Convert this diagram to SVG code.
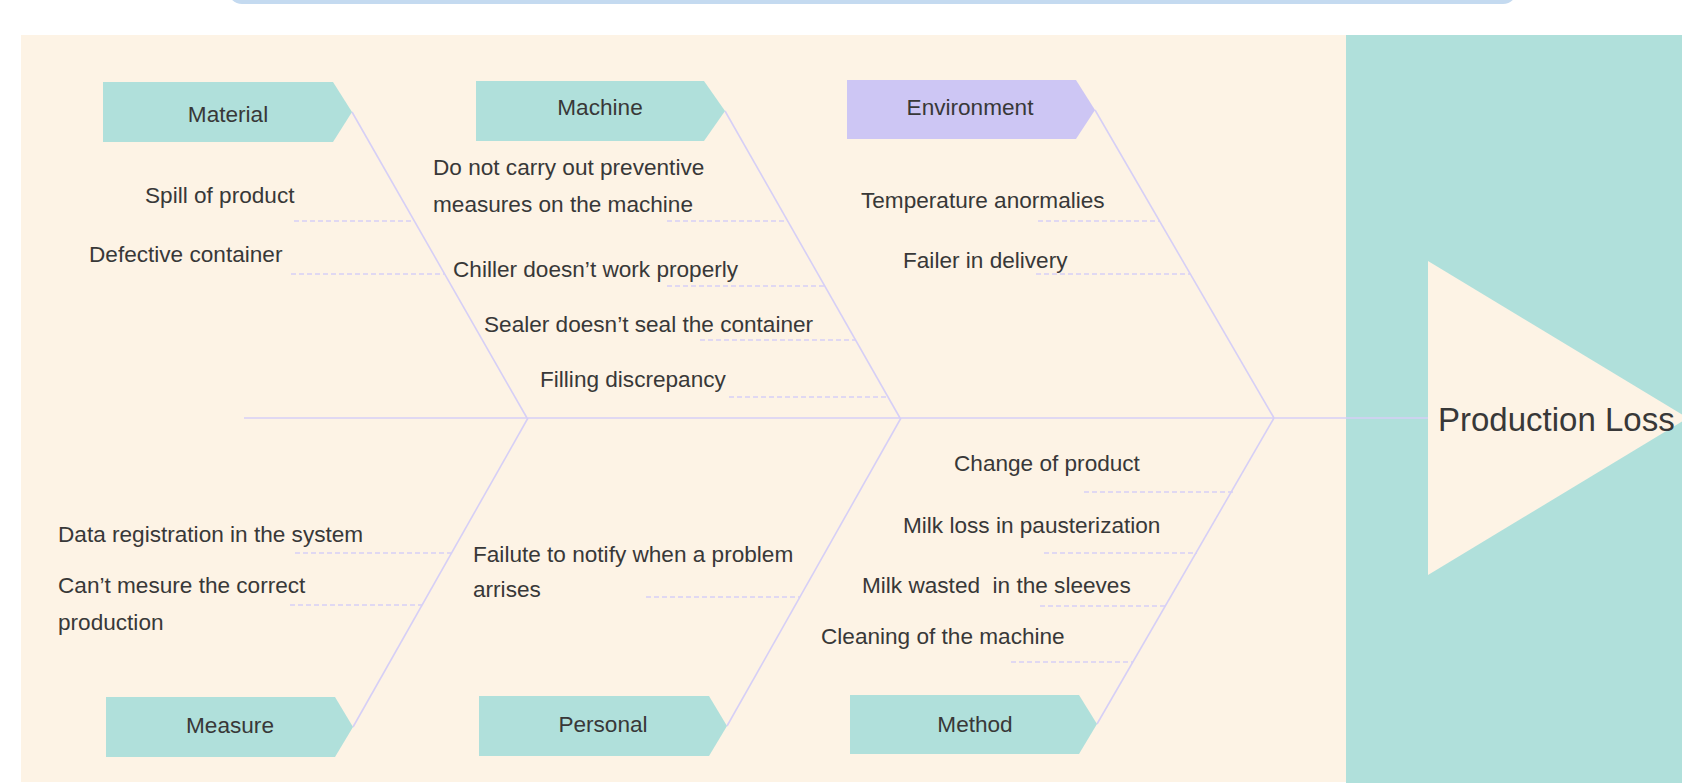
<svg xmlns="http://www.w3.org/2000/svg" width="1682" height="783" viewBox="0 0 1682 783">
<style>
.t{font-family:"Liberation Sans",Arial,sans-serif;font-size:22.6px;fill:#383838;white-space:pre}
.lbl{font-family:"Liberation Sans",Arial,sans-serif;font-size:22.6px;fill:#383838;text-anchor:middle}
.node{fill:#b0e0db}
.env{fill:#cdc6f4}
.bone{stroke:#d6cff6;stroke-width:1.6;fill:none}
.dash{stroke:#d6cff6;stroke-width:1.6;stroke-dasharray:5 3;fill:none}
</style>
<rect x="0" y="0" width="1682" height="783" fill="#ffffff"/>
<rect x="228" y="-40" width="1289" height="44" rx="14" fill="#c4daf0"/>
<rect x="21" y="35" width="1325" height="747" fill="#fdf3e5"/>
<rect x="1346" y="35" width="336" height="748" fill="#b0e0db"/>
<g id="head">
<polygon points="1428,261 1688,418 1428,575" fill="#fdf3e5"/>
<text x="1438" y="431" style="font-family:'Liberation Sans',Arial,sans-serif;font-size:33px;fill:#383838">Production Loss</text>
</g>
<g id="connectors">
<line class="bone" x1="244" y1="418" x2="1428" y2="418"/>
<line class="bone" x1="352" y1="112" x2="527" y2="418"/>
<line class="bone" x1="725" y1="111" x2="900" y2="418"/>
<line class="bone" x1="1095" y1="110" x2="1274" y2="418"/>
<line class="bone" x1="528" y1="418" x2="353" y2="727"/>
<line class="bone" x1="901" y1="418" x2="727" y2="726"/>
<line class="bone" x1="1274" y1="418" x2="1097" y2="724"/>
<line class="dash" x1="294" y1="221" x2="414" y2="221"/>
<line class="dash" x1="291" y1="274" x2="444" y2="274"/>
<line class="dash" x1="667" y1="221" x2="788" y2="221"/>
<line class="dash" x1="667" y1="286" x2="825" y2="286"/>
<line class="dash" x1="700" y1="340" x2="855" y2="340"/>
<line class="dash" x1="729" y1="397" x2="887" y2="397"/>
<line class="dash" x1="1038" y1="221" x2="1159" y2="221"/>
<line class="dash" x1="1036" y1="274" x2="1190" y2="274"/>
<line class="dash" x1="295" y1="553" x2="451" y2="553"/>
<line class="dash" x1="290" y1="605" x2="422" y2="605"/>
<line class="dash" x1="646" y1="597" x2="800" y2="597"/>
<line class="dash" x1="1084" y1="492" x2="1234" y2="492"/>
<line class="dash" x1="1044" y1="553" x2="1197" y2="553"/>
<line class="dash" x1="1040" y1="606" x2="1165" y2="606"/>
<line class="dash" x1="1011" y1="662" x2="1133" y2="662"/>
</g>
<g id="material">
<polygon class="node" points="103,82 333,82 352,112 333,142 103,142"/>
<text class="lbl" x="228" y="122">Material</text>
<text class="t" x="145" y="203">Spill of product</text>
<text class="t" x="89" y="262">Defective container</text>
</g>
<g id="machine">
<polygon class="node" points="476,81 704,81 725,111 704,141 476,141"/>
<text class="lbl" x="600" y="115">Machine</text>
<text class="t" x="433" y="175">Do not carry out preventive</text>
<text class="t" x="433" y="212">measures on the machine</text>
<text class="t" x="453" y="277">Chiller doesn’t work properly</text>
<text class="t" x="484" y="332">Sealer doesn’t seal the container</text>
<text class="t" x="540" y="387">Filling discrepancy</text>
</g>
<g id="environment">
<polygon class="env" points="847,80 1076,80 1095,110 1076,139 847,139"/>
<text class="lbl" x="970" y="115">Environment</text>
<text class="t" x="861" y="208">Temperature anormalies</text>
<text class="t" x="903" y="268">Failer in delivery</text>
</g>
<g id="measure">
<polygon class="node" points="106,697 335,697 353,727 335,757 106,757"/>
<text class="lbl" x="230" y="733">Measure</text>
<text class="t" x="58" y="542">Data registration in the system</text>
<text class="t" x="58" y="593">Can’t mesure the correct</text>
<text class="t" x="58" y="630">production</text>
</g>
<g id="personal">
<polygon class="node" points="479,696 709,696 727,726 709,756 479,756"/>
<text class="lbl" x="603" y="732">Personal</text>
<text class="t" x="473" y="562">Failute to notify when a problem</text>
<text class="t" x="473" y="597">arrises</text>
</g>
<g id="method">
<polygon class="node" points="850,695 1079,695 1097,724 1079,754 850,754"/>
<text class="lbl" x="975" y="732">Method</text>
<text class="t" x="954" y="471">Change of product</text>
<text class="t" x="903" y="533">Milk loss in pausterization</text>
<text class="t" x="862" y="593">Milk wasted  in the sleeves</text>
<text class="t" x="821" y="644">Cleaning of the machine</text>
</g>
</svg>
